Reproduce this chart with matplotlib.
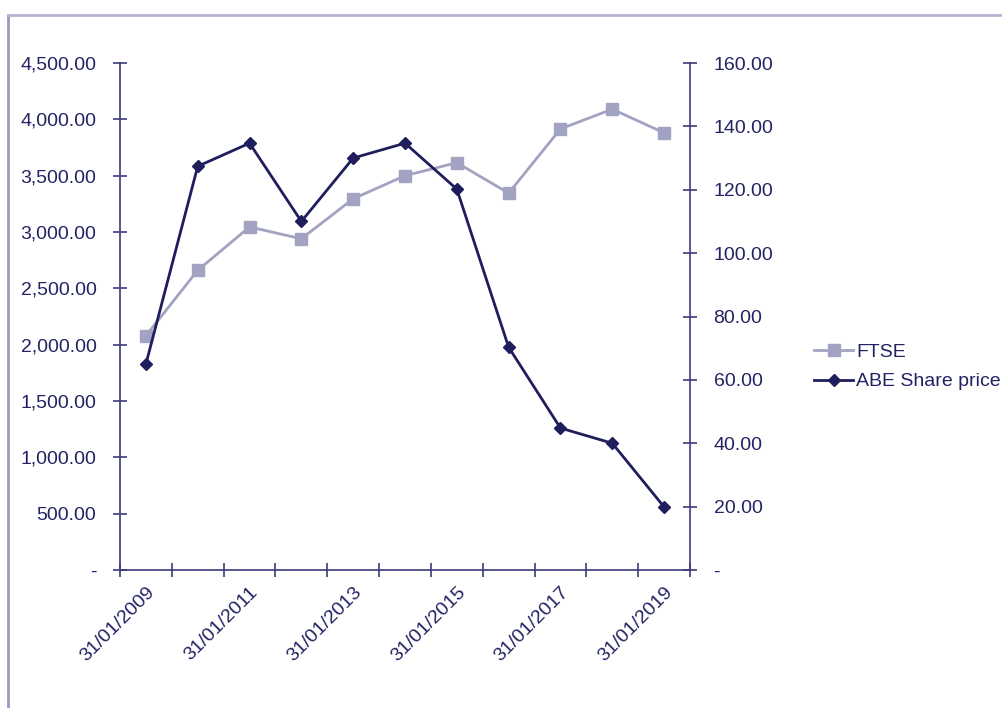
import numpy as np
import matplotlib.pyplot as plt
from matplotlib.lines import Line2D

plt.rcParams['font.family'] = ['Liberation Sans', 'DejaVu Sans']

dates = ['31/01/2009', '31/01/2010', '31/01/2011', '31/01/2012', '31/01/2013',
         '31/01/2014', '31/01/2015', '31/01/2016', '31/01/2017', '31/01/2018',
         '31/01/2019']
ftse = [2080, 2660, 3045, 2940, 3295, 3500, 3615, 3345, 3915, 4090, 3880]
abe = [65.0, 127.4, 134.7, 110.0, 130.0, 134.7, 120.2, 70.3, 44.8, 40.0, 19.9]

txt = '#232363'
axc = '#3c3c7c'
ftse_c = '#a2a2c2'
abe_c = '#1e1e5c'

fig = plt.figure(figsize=(10.03, 7.08), dpi=100)
ax = fig.add_axes([120/1003, 1-570/708, 570/1003, 507/708])
ax2 = ax.twinx()

x = np.arange(len(dates)) + 0.5
ax.plot(x, ftse, color=ftse_c, lw=2, marker='s', ms=8, zorder=3)
ax2.plot(x, abe, color=abe_c, lw=2, marker='D', ms=6, zorder=4)

ax.set_xlim(0, len(dates))
ax.set_ylim(0, 4500)
ax2.set_ylim(0, 160)

# tick marks between categories, labels every second category
ax.set_xticks(np.arange(len(dates) + 1))
ax.set_xticklabels([])
ax.set_xticks(x[::2], minor=True)
ax.set_xticklabels(dates[::2], minor=True, rotation=45, ha='right',
                   rotation_mode='anchor', fontsize=14, color=txt)
ax.tick_params(axis='x', which='minor', length=0, pad=10)

ax.set_yticks(np.arange(0, 4501, 500))
ax.set_yticklabels(['-'] + [f'{v:,.2f}' for v in range(500, 4501, 500)])
ax2.set_yticks(np.arange(0, 161, 20))
ax2.set_yticklabels(['-'] + [f'{v:.2f}' for v in range(20, 161, 20)])

for a in (ax, ax2):
    a.tick_params(axis='both', which='major', direction='inout', length=10,
                  width=1.2, color=axc, labelcolor=txt, labelsize=14, pad=12)
    a.spines['top'].set_visible(False)
    for s in ('left', 'right', 'bottom'):
        a.spines[s].set_color(axc)
        a.spines[s].set_linewidth(1.2)
ax.spines['right'].set_visible(False)
ax2.spines['left'].set_visible(False)
ax2.spines['bottom'].set_visible(False)

handles = [Line2D([], [], color=ftse_c, lw=2, marker='s', ms=8),
           Line2D([], [], color=abe_c, lw=2, marker='D', ms=6)]
fig.legend(handles, ['FTSE', 'ABE Share price'], loc='center left',
           bbox_to_anchor=(797/1003, 1-367/708), frameon=False, fontsize=14,
           labelcolor=txt, handlelength=2.0, handletextpad=0.15, labelspacing=0.6)

# outer frame lines (left and top)
fig.add_artist(Line2D([8/1003, 8/1003], [0, 1-15/708], color='#9a9ac0', lw=2))
fig.add_artist(Line2D([8/1003, 1], [1-15/708, 1-15/708], color='#b4b4d0', lw=2))

fig.savefig('out.png', dpi=100)
